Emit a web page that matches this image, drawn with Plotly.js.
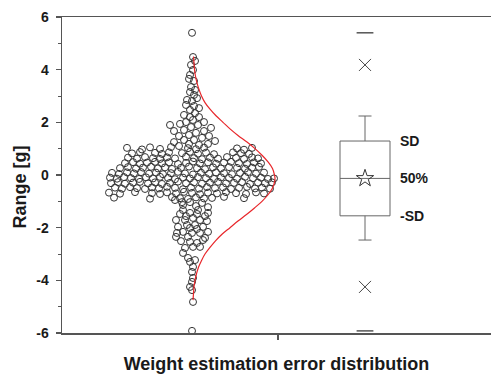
<!DOCTYPE html>
<html>
<head>
<meta charset="utf-8">
<script src="https://cdn.plot.ly/plotly-3.0.1.min.js"></script>
<style>html,body{margin:0;padding:0;background:#fff;}#chart{width:491px;height:374px;}</style>
</head>
<body>
<div id="chart"></div>
<script>
// ---- swarm of weight estimation errors (x = horizontal jitter, y = error in g) ----
const topX = [0,1,3,-1,1,-2,-3,2,-1,3,-2,2,5,-5,0,-6,2,7,-2,3,-8,-2,7,1,-6,12,-12,-22,6,-1,19,-18,-8,12,4,-3,-13,17,10,-8,2,-18,23,-3,7,16,-13,-21];
const topY = [5.40,4.48,4.33,4.18,3.99,3.80,3.65,3.57,3.34,3.23,3.15,3.04,2.92,2.85,2.81,2.66,2.62,2.54,2.47,2.35,2.28,2.20,2.20,2.09,2.01,2.01,1.94,1.90,1.90,1.82,1.79,1.67,1.71,1.67,1.60,1.52,1.48,1.48,1.41,1.33,1.33,1.25,1.29,1.18,1.14,1.18,1.10,1.06];

const bandX = [
 -65,-50,-42,-32,-4,4,12,45,52,60,
 -60,-52,-37,-30,-23,-10,-2,6,14,22,41,49,57,
 -64,-55,-47,-39,-32,-25,-17,-6,2,10,18,26,35,44,52,60,66,
 -67,-59,-52,-45,-37,-30,-23,-14,-6,1,8,16,24,32,39,47,55,62,69,
 -72,-64,-56,-49,-41,-34,-27,-20,-11,-3,5,13,21,29,37,45,53,60,67,
 -80,-73,-65,-58,-51,-43,-36,-29,-21,-14,-7,1,9,17,24,32,40,48,56,64,72,
 -82,-75,-68,-61,-53,-46,-39,-32,-24,-17,-9,-2,6,14,22,29,37,45,53,61,69,76,82,
 -81,-74,-67,-59,-52,-44,-37,-30,-22,-14,-6,2,10,18,26,34,42,50,58,66,73,80,
 -77,-70,-62,-55,-47,-40,-33,-25,-17,-9,-1,7,15,23,31,39,47,55,63,70,78,
 -83,-72,-57,-40,-32,-25,-16,-8,0,8,16,25,34,44,54,64,72,
 -78,-42,-20,-12,-4,4,12,20,32,52];
const bandY = [
 1.03,0.97,1.05,0.99,1.02,0.98,1.04,1.01,0.96,1.03,
 0.82,0.87,0.84,0.80,0.86,0.83,0.88,0.81,0.85,0.79,0.86,0.83,0.80,
 0.66,0.62,0.68,0.64,0.61,0.67,0.63,0.69,0.64,0.60,0.66,0.62,0.68,0.65,0.61,0.67,0.63,
 0.45,0.49,0.43,0.47,0.50,0.44,0.48,0.42,0.46,0.51,0.44,0.48,0.43,0.47,0.50,0.45,0.42,0.48,0.44,
 0.26,0.30,0.24,0.28,0.31,0.25,0.29,0.23,0.27,0.32,0.26,0.22,0.29,0.25,0.30,0.27,0.24,0.28,0.31,
 0.08,0.04,0.10,0.06,0.11,0.05,0.09,0.03,0.07,0.12,0.06,0.02,0.09,0.05,0.10,0.07,0.03,0.08,0.11,0.05,0.09,
 -0.10,-0.14,-0.08,-0.12,-0.15,-0.09,-0.13,-0.07,-0.11,-0.16,-0.10,-0.13,-0.08,-0.12,-0.15,-0.09,-0.11,-0.14,-0.07,-0.12,-0.10,-0.15,-0.13,
 -0.31,-0.27,-0.33,-0.29,-0.26,-0.32,-0.28,-0.34,-0.30,-0.25,-0.31,-0.28,-0.33,-0.29,-0.26,-0.32,-0.30,-0.27,-0.34,-0.29,-0.31,-0.28,
 -0.48,-0.52,-0.46,-0.50,-0.53,-0.47,-0.51,-0.45,-0.49,-0.54,-0.48,-0.52,-0.46,-0.50,-0.47,-0.53,-0.49,-0.45,-0.51,-0.48,-0.52,
 -0.67,-0.71,-0.65,-0.69,-0.72,-0.66,-0.70,-0.64,-0.68,-0.73,-0.67,-0.70,-0.65,-0.69,-0.72,-0.66,-0.70,
 -0.86,-0.90,-0.84,-0.88,-0.91,-0.85,-0.89,-0.87,-0.83,-0.88];

const lowX = [-17,-10,-2,10,16,-9,6,-2,16,-12,-16,-7,1,8,15,-14,-5,3,11,-15,-9,0,8,16,-11,-2,5,11,-7,1,8,-9,3,-2,1,0,1,-2,0,1,0,-16,-4,13,5,-2,13,-6,5,-9,4,-4,0];
const lowY = [-0.95,-1.03,-1.03,-1.06,-1.22,-1.33,-1.33,-1.44,-1.44,-1.48,-1.71,-1.71,-1.63,-1.71,-1.75,-1.97,-1.90,-1.90,-1.97,-2.20,-2.16,-2.20,-2.20,-2.16,-2.51,-2.54,-2.58,-2.47,-2.77,-2.73,-2.73,-2.96,-3.23,-3.30,-3.49,-3.68,-3.91,-4.25,-4.37,-4.82,-5.92,-2.35,-2.35,-2.39,-2.05,-2.01,-1.56,-1.56,-1.48,-1.14,-1.18,-3.15,-4.06];

// ---- normal distribution curve ----
const curveY = [4.5,4.25,4.0,3.75,3.5,3.25,3.0,2.75,2.5,2.25,2.0,1.75,1.5,1.25,1.0,0.75,0.5,0.25,0.0,-0.12,-0.25,-0.5,-0.75,-1.0,-1.25,-1.5,-1.75,-2.0,-2.25,-2.5,-2.75,-3.0,-3.25,-3.5,-3.75,-4.0,-4.25,-4.5,-4.75];
const curveX = [1.5,2,2.5,3.5,5,7,9.5,13,18,24,31,38,46,55,63,70,76,80.5,82.5,83,82.7,80.4,76,70,62.5,54.5,46,38,30,23.5,18,13,9.5,6.5,4.5,3,2,1.5,1];

// ---- box statistics ----
const boxPos = [173];
const meanVal = [-0.13];
const sdHigh = [1.29];
const sdLow = [-1.55];
const whiskHigh = [2.24];
const whiskLow = [-2.47];
const pctVals = [4.18, -4.25];
const extremeVals = [5.40, -5.92];
const boxLabels = ['SD', '50%', '-SD'];
const boxLabelY = [1.29, -0.13, -1.55];

// ---- axis ticks ----
const yTickVals = [-6,-4,-2,0,2,4,6];
const yTickText = ['-6','-4','-2','0','2','4','6'];
const yMinorVals = [-5,-3,-1,1,3,5];

const swarmX = topX.concat(bandX, lowX);
const swarmY = topY.concat(bandY, lowY);

const font = 'Arial, "Liberation Sans", Helvetica, sans-serif';
const axisCol = '#555';
const textCol = '#1a1a1a';

const traces = [
  {type:'scatter', mode:'markers', x:swarmX, y:swarmY,
   marker:{symbol:'circle-open', size:7, color:'#333', line:{width:1}}, hoverinfo:'skip'},
  {type:'scatter', mode:'lines', x:curveX, y:curveY,
   line:{color:'#e8262a', width:1.2, shape:'spline'}, hoverinfo:'skip'},
  {type:'box', x:boxPos, q1:sdLow, median:meanVal, q3:sdHigh, lowerfence:whiskLow, upperfence:whiskHigh,
   width:50, whiskerwidth:0.26, line:{color:'#666', width:1}, fillcolor:'rgba(0,0,0,0)', boxpoints:false, hoverinfo:'skip'},
  {type:'scatter', mode:'markers', x:[boxPos[0], boxPos[0]], y:pctVals,
   marker:{symbol:'x-thin', size:12, color:'#444', line:{width:1, color:'#444'}}, hoverinfo:'skip'},
  {type:'scatter', mode:'markers', x:[boxPos[0], boxPos[0]], y:extremeVals,
   marker:{symbol:'line-ew', size:12, color:'#555', line:{width:1.5, color:'#555'}}, hoverinfo:'skip'},
  {type:'scatter', mode:'markers', x:boxPos, y:meanVal,
   marker:{symbol:'star-open', size:13, color:'#333', line:{width:1}}, hoverinfo:'skip'}
];

const annotations = boxLabels.map((t, i) => ({
  x: 206, y: boxLabelY[i], xref:'x', yref:'y', text: t, showarrow:false, xanchor:'left', yanchor:'middle',
  font:{family:font, size:14, color:textCol, weight:'bold'}
}));
// y-axis title placed as a rotated annotation (sits slightly below the axis middle in the reference)
annotations.push({
  xref:'paper', yref:'paper', x:-0.099, y:0.462, text:'Range [g]', textangle:-90, showarrow:false,
  xanchor:'center', yanchor:'middle', font:{family:font, size:18, color:textCol, weight:'bold'}
});

const layout = {
  width:491, height:374,
  margin:{l:62, r:0, t:17, b:41},
  paper_bgcolor:'#fff', plot_bgcolor:'#fff',
  showlegend:false,
  font:{family:font},
  xaxis:{range:[-130, 299], showgrid:false, zeroline:false, showline:true, linecolor:axisCol, linewidth:1.5,
         mirror:true, ticks:'outside', tickvals:[86], ticklen:5, tickcolor:axisCol, tickwidth:1.2, showticklabels:false,
         title:{text:'Weight estimation error distribution', font:{family:font, size:18, color:textCol, weight:'bold'}, standoff:20}},
  yaxis:{range:[-6, 6], showgrid:false, zeroline:false, showline:true, linecolor:axisCol, linewidth:1.5,
         ticks:'outside', tickvals:yTickVals, ticktext:yTickText, ticklen:5, tickcolor:axisCol, tickwidth:1.2,
         minor:{tickvals:yMinorVals, ticks:'outside', ticklen:3, tickcolor:axisCol, tickwidth:1},
         tickfont:{family:font, size:14, color:textCol, weight:'bold'}, ticklabelstandoff:4},
  annotations: annotations
};

Plotly.newPlot('chart', traces, layout, {staticPlot:true, displayModeBar:false});
</script>
</body>
</html>
